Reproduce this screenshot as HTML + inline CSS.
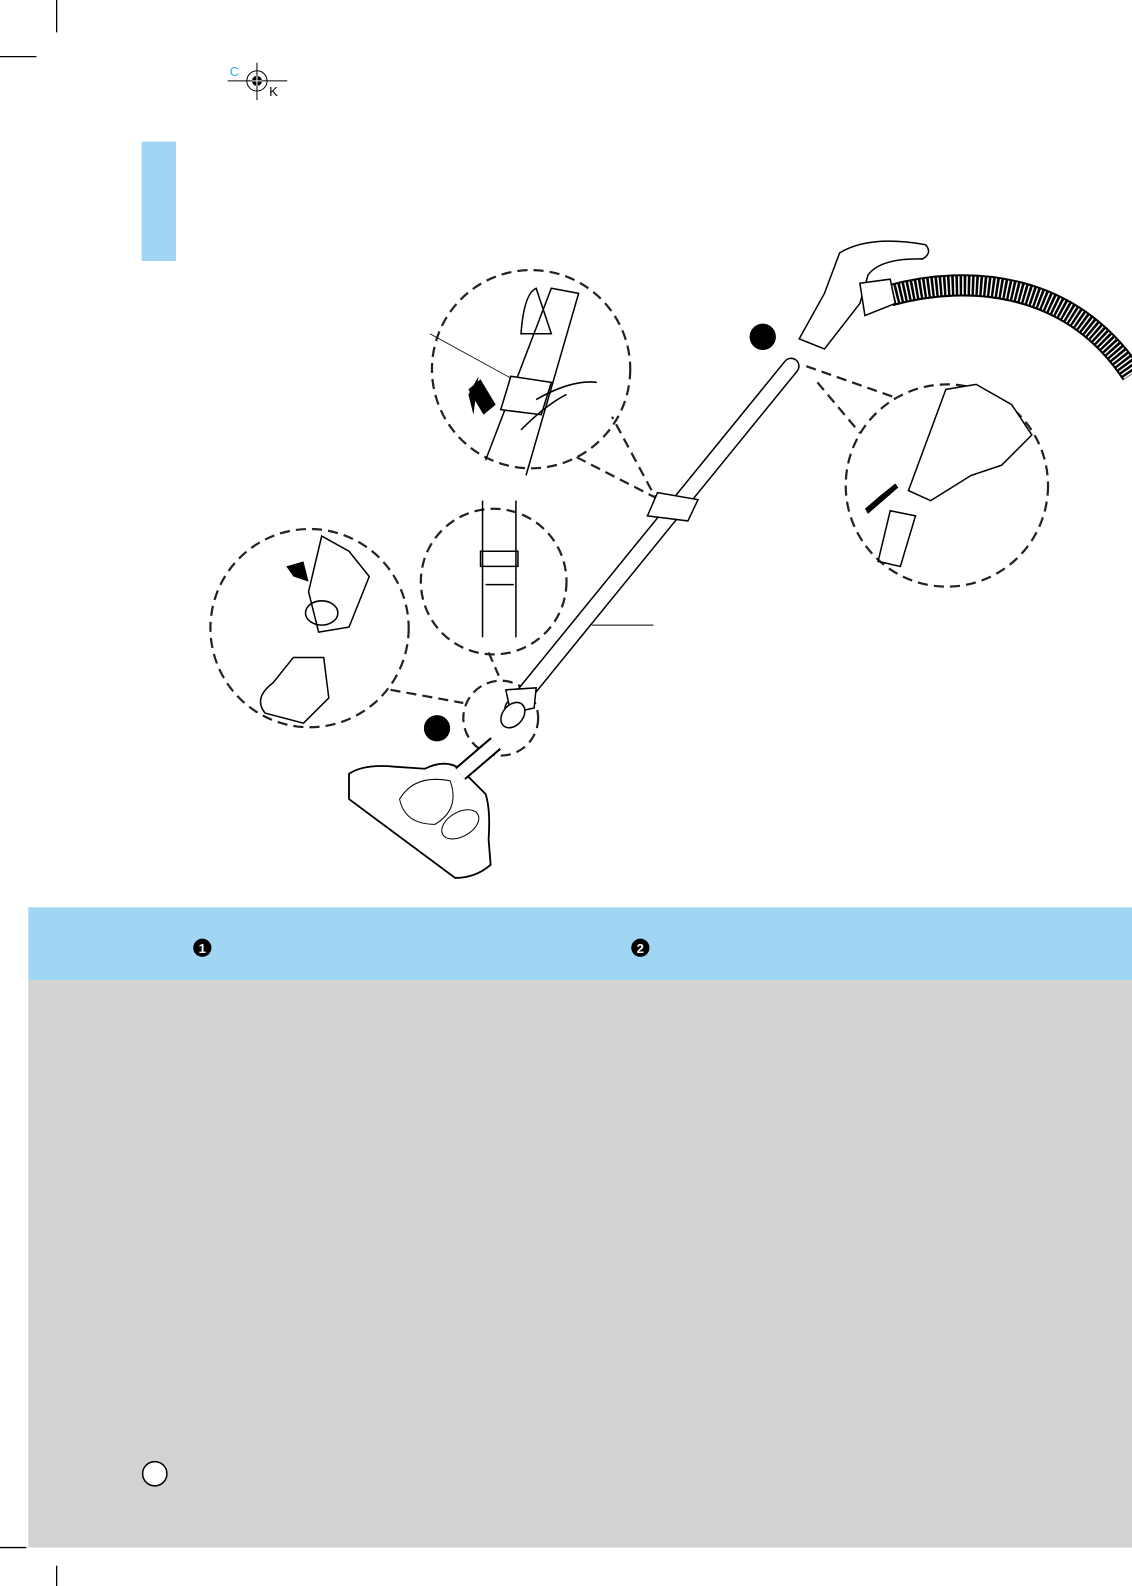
<!DOCTYPE html>
<html><head><meta charset="utf-8"><style>
html,body{margin:0;padding:0;background:#fff}
body{width:1132px;height:1586px;position:relative;overflow:hidden;font-family:"Liberation Sans",sans-serif}
svg{position:absolute;left:0;top:0}
</style></head><body>
<svg width="1132" height="1586" viewBox="0 0 1119 1568" preserveAspectRatio="none">
<rect x="28" y="897" width="1091" height="72" fill="#a0d5f3"/>
<rect x="28" y="969" width="1091" height="561" fill="#d2d2d2"/>
<rect x="140" y="140" width="34" height="118" fill="#a0d5f3"/>
<g stroke="#000" stroke-width="1.3">
<line x1="56" y1="0" x2="56" y2="32"/><line x1="0" y1="56" x2="36" y2="56"/>
<line x1="0" y1="1530" x2="26" y2="1530"/><line x1="56" y1="1548" x2="56" y2="1586"/>
<line x1="225" y1="80" x2="284" y2="80" stroke-width="1"/><line x1="254" y1="62" x2="254" y2="99" stroke-width="1"/>
</g>
<circle cx="254" cy="80" r="10" fill="none" stroke="#000" stroke-width="1"/>
<circle cx="254" cy="80" r="5" fill="#000"/>
<line x1="249" y1="80" x2="259" y2="80" stroke="#fff" stroke-width="1"/><line x1="254" y1="75" x2="254" y2="85" stroke="#fff" stroke-width="1"/>
<text x="227" y="75" font-size="13" fill="#29abe2">C</text>
<text x="266" y="95" font-size="13" fill="#000">K</text>
<g fill="none" stroke="#222" stroke-width="2.2" stroke-dasharray="10 6">
<circle cx="525" cy="365" r="98"/>
<circle cx="488" cy="575" r="72"/>
<circle cx="306" cy="621" r="98"/>
<circle cx="936" cy="480" r="100"/>
<circle cx="495" cy="710" r="37"/>
<polyline points="570,452 648,492 605,412"/>
<polyline points="386,682 458,695"/>
<polyline points="483,645 493,668"/>
<polyline points="797,362 882,392"/>
<polyline points="808,378 850,428"/>
</g>
<path d="M880,292 C960,270 1060,280 1119,370" fill="none" stroke="#000" stroke-width="22"/>
<path d="M880,292 C960,270 1060,280 1119,370" fill="none" stroke="#fff" stroke-width="18" stroke-dasharray="1.5 2.5"/>
<path d="M790,335 L815,290 L830,250 Q860,232 915,242 Q922,250 912,256 Q870,255 858,272 L850,300 L815,345 Z" fill="#fff" stroke="#000" stroke-width="1.5"/>
<path d="M850,280 L880,276 L885,300 L855,312 Z" fill="#fff" stroke="#000" stroke-width="1.5"/>
<line x1="507" y1="700" x2="782" y2="362" stroke="#000" stroke-width="17" stroke-linecap="round"/>
<line x1="507" y1="700" x2="782" y2="362" stroke="#fff" stroke-width="14" stroke-linecap="round"/>
<path d="M650,487 L690,494 L680,515 L640,510 Z" fill="#fff" stroke="#000" stroke-width="1.5"/>
<path d="M500,682 L530,680 L528,700 L505,705 Z" fill="#fff" stroke="#000" stroke-width="1.5"/>
<ellipse cx="507" cy="707" rx="14" ry="10" fill="#fff" stroke="#000" stroke-width="1.5" transform="rotate(-50 507 707)"/>
<line x1="585" y1="618" x2="646" y2="618" stroke="#000"/>
<line x1="425" y1="330" x2="520" y2="382" stroke="#000" stroke-width="0.8"/>
<circle cx="754" cy="333" r="13" fill="#000"/>
<circle cx="432" cy="720" r="13" fill="#000"/>
<path d="M345,765 Q360,755 390,758 L420,760 Q440,750 455,760 L480,785 Q485,800 483,830 L485,855 Q470,868 450,868 L345,790 Z" fill="#fff" stroke="#000" stroke-width="1.8"/>
<path d="M395,790 Q410,765 445,772 Q455,800 430,815 Q400,815 395,790 Z" fill="#fff" stroke="#000"/>
<ellipse cx="455" cy="815" rx="20" ry="12" fill="#fff" stroke="#000" transform="rotate(-30 455 815)"/>
<line x1="455" y1="765" x2="490" y2="735" stroke="#000" stroke-width="16"/>
<line x1="455" y1="765" x2="490" y2="735" stroke="#fff" stroke-width="12"/>
<g fill="none" stroke="#000" stroke-width="1.5">
<path d="M480,455 L545,285 L572,290 L520,470"/>
<path d="M505,372 L545,378 L535,410 L495,405 Z" fill="#fff"/>
<path d="M515,330 Q518,290 530,285 L545,330 Z"/>
<path d="M530,395 Q565,375 590,378 M515,425 Q540,400 560,390"/>
<path d="M477,495 L477,630 M510,495 L510,630 M475,545 L512,545 L512,560 L475,560 Z"/>
<path d="M480,578 L508,578"/>
<path d="M318,530 L345,545 L365,570 L345,620 L315,625 L305,585 Z"/>
<ellipse cx="318" cy="606" rx="16" ry="12"/>
<path d="M290,650 L320,650 L325,690 L300,715 L262,705 Q250,690 270,675 Z"/>
<path d="M935,385 L965,380 L1000,400 L1020,430 L990,460 L960,470 L920,495 L898,485 Z" fill="#fff"/>
<path d="M880,505 L905,510 L890,560 L868,555 Z"/>
</g>
<path d="M463,385 L475,375 L490,400 L478,410 Z" fill="#000"/>
<path d="M463,390 L473,372 L468,410 Z" fill="#000"/>
<path d="M855,503 L870,490 L885,478 L888,482 L858,508 Z" fill="#000"/>
<path d="M283,560 L300,555 L305,575 L290,570 Z" fill="#000"/>
<circle cx="200" cy="937" r="9" fill="#000"/><text x="200" y="942" font-size="13" font-weight="bold" fill="#fff" text-anchor="middle">1</text>
<circle cx="633" cy="937" r="9" fill="#000"/><text x="633" y="942" font-size="13" font-weight="bold" fill="#fff" text-anchor="middle">2</text>
<circle cx="153" cy="1457" r="12" fill="#fff" stroke="#000" stroke-width="1.5"/>
</svg>
</body></html>
